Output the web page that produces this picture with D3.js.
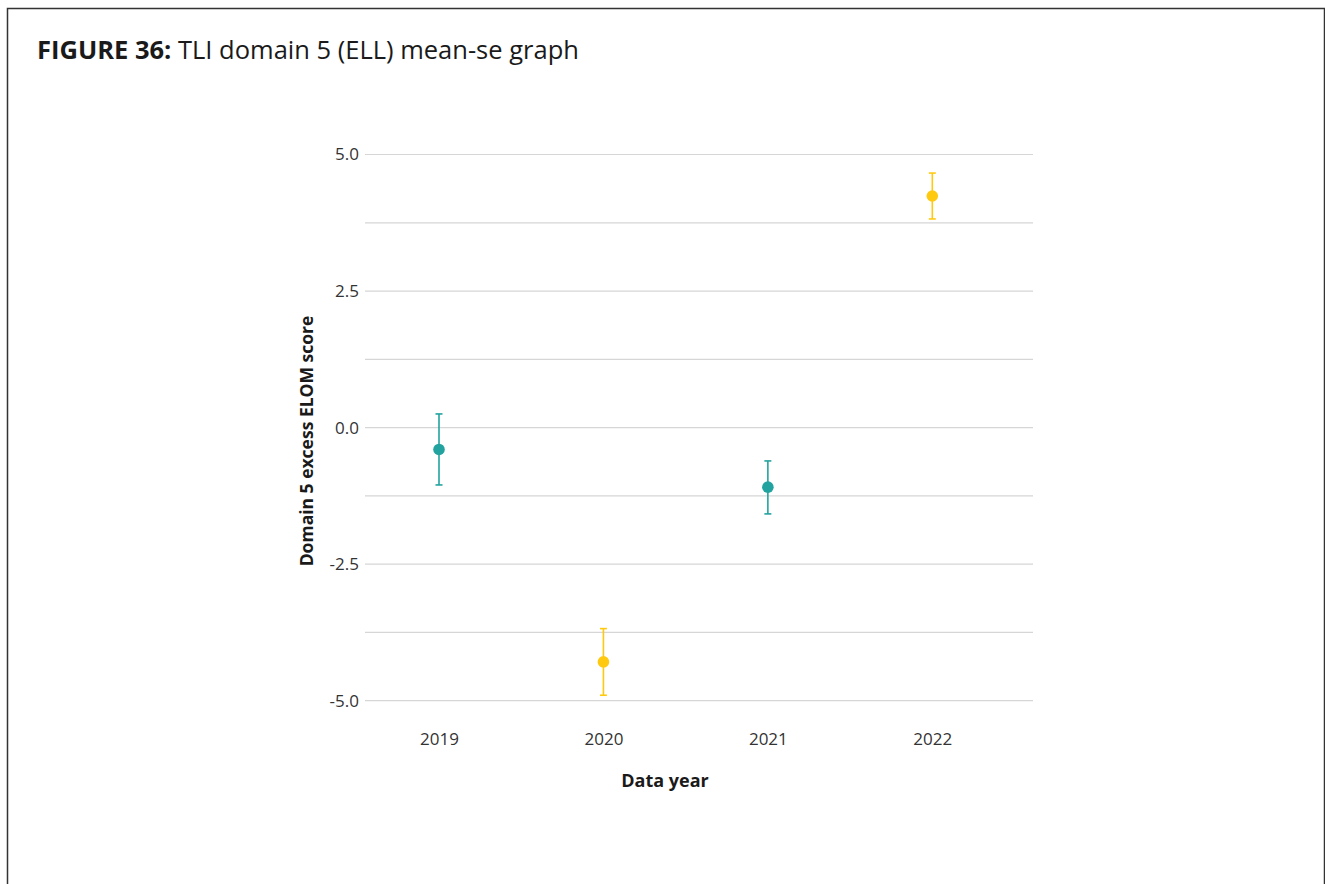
<!DOCTYPE html>
<html><head><meta charset="utf-8">
<script src="https://cdn.jsdelivr.net/npm/d3@7"></script>
<style>
html,body{margin:0;padding:0;background:#fff;}
svg{display:block;font-family:"Open Sans",sans-serif;}
</style></head>
<body>
<svg id="chart" width="1325" height="884"></svg>
<script>
const years = ["2019","2020","2021","2022"];
const means = [-0.40, -4.29, -1.09, 4.24];
const upper = [0.25, -3.68, -0.61, 4.66];
const lower = [-1.05, -4.90, -1.58, 3.82];
const groups = ["a","b","a","b"];
const gridTicks = [-5,-3.75,-2.5,-1.25,0,1.25,2.5,3.75,5];
const labelTicks = [-5,-2.5,0,2.5,5];

const colors = {a:"#23a39f", b:"#ffc910"};
const svg = d3.select("#chart");

// frame
svg.append("path").attr("d","M7.5,890 V8.5 H1324.5 V890").attr("fill","none").attr("stroke","#333").attr("stroke-width",1.5);

// title
const t = svg.append("text").attr("x",37).attr("y",59).attr("font-size",25.5).attr("fill","#1a1a1a");
t.append("tspan").attr("font-weight","bold").text("FIGURE 36:");
t.append("tspan").text(" TLI domain 5 (ELL) mean-se graph");

const left = 365, right = 1033;
const y = d3.scaleLinear().domain([-5,5]).range([700.7,154.5]);
const x = d3.scalePoint().domain(years).range([439,932.3]);

const g = svg.append("g");
g.selectAll("line.grid").data(gridTicks).join("line").attr("class","grid")
  .attr("x1",left).attr("x2",right).attr("y1",d=>y(d)).attr("y2",d=>y(d))
  .attr("stroke","#d6d6d6").attr("stroke-width",1.2);

const yAxis = d3.axisLeft(y).tickValues(labelTicks).tickFormat(d=>d3.format(".1f")(d).replace("\u2212","-")).tickSize(0).tickPadding(6);
const ya = svg.append("g").attr("transform",`translate(${left},0)`).call(yAxis);
ya.select(".domain").remove();
ya.selectAll("text").attr("font-size",17).attr("fill","#333").attr("font-family","Open Sans");

const xAxis = d3.axisBottom(x).tickSize(0).tickPadding(0);
const xa = svg.append("g").attr("transform",`translate(0,733)`).call(xAxis);
xa.select(".domain").remove();
xa.selectAll("text").attr("font-size",17).attr("fill","#333").attr("font-family","Open Sans");

svg.append("text").attr("x",665).attr("y",787).attr("text-anchor","middle")
  .attr("font-size",18).attr("font-weight","bold").attr("fill","#1a1a1a").text("Data year");
svg.append("text").attr("transform","translate(313,441) rotate(-90)").attr("text-anchor","middle")
  .attr("font-size",17.5).attr("font-weight","bold").attr("fill","#1a1a1a").text("Domain 5 excess ELOM score");

const data = years.map((yr,i)=>({yr,m:means[i],u:upper[i],l:lower[i],c:colors[groups[i]]}));
const pts = svg.append("g").selectAll("g").data(data).join("g");
pts.append("line").attr("x1",d=>x(d.yr)).attr("x2",d=>x(d.yr)).attr("y1",d=>y(d.u)).attr("y2",d=>y(d.l))
  .attr("stroke",d=>d.c).attr("stroke-width",1.6);
pts.append("line").attr("x1",d=>x(d.yr)-3.5).attr("x2",d=>x(d.yr)+3.5).attr("y1",d=>y(d.u)).attr("y2",d=>y(d.u))
  .attr("stroke",d=>d.c).attr("stroke-width",1.6);
pts.append("line").attr("x1",d=>x(d.yr)-3.5).attr("x2",d=>x(d.yr)+3.5).attr("y1",d=>y(d.l)).attr("y2",d=>y(d.l))
  .attr("stroke",d=>d.c).attr("stroke-width",1.6);
pts.append("circle").attr("cx",d=>x(d.yr)).attr("cy",d=>y(d.m)).attr("r",5.8).attr("fill",d=>d.c);
</script>
</body></html>
